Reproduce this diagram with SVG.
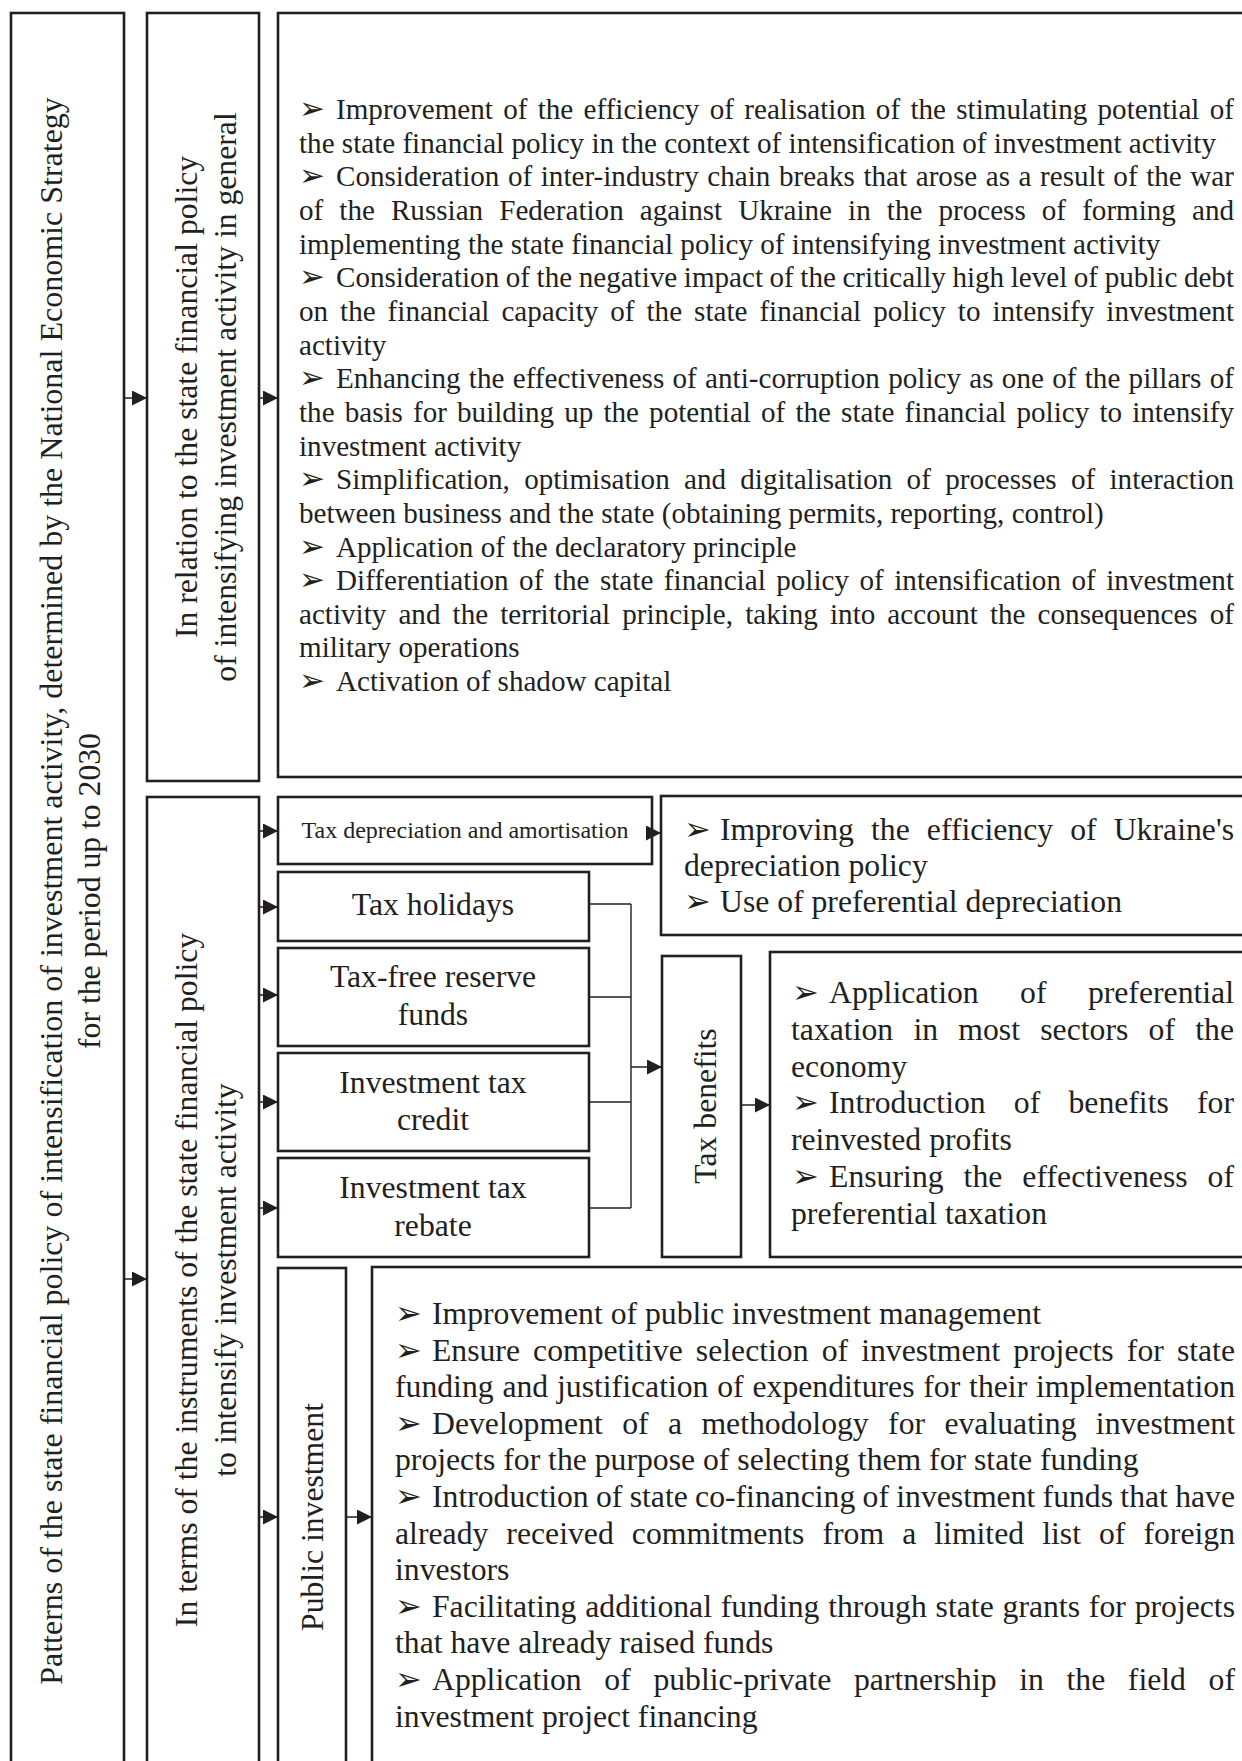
<svg xmlns="http://www.w3.org/2000/svg" width="1242" height="1761" viewBox="0 0 1242 1761">
<style>
.t{font-family:"Liberation Serif","Times New Roman",serif;fill:#231f20}
.s29{font-size:29.1px}
.s32{font-size:31.7px}
.s32b{font-size:32px}
.s24{font-size:24px}
.b{font-family:"DejaVu Sans",sans-serif;fill:#231f20}
.b29{font-size:31px}
.b32{font-size:32px}
.m{text-anchor:middle}
.box{fill:none;stroke:#231f20;stroke-width:2.6}
.ln{fill:none;stroke:#231f20;stroke-width:1.4}
.ar{fill:none;stroke:#231f20;stroke-width:1.5;marker-end:url(#ah)}
</style>
<defs>
<marker id="ah" viewBox="0 0 15 15" refX="15" refY="7.5" markerWidth="15" markerHeight="15" markerUnits="userSpaceOnUse" orient="auto">
<path d="M0,0 L15,7.5 L0,15 z" fill="#231f20"/>
</marker>
</defs>
<rect width="1242" height="1761" fill="#ffffff"/>

<g id="node-patterns">
<rect class="box" x="11" y="13" width="113" height="1770"/>
<text class="t s32b m" transform="translate(62,891) rotate(-90)">Patterns of the state financial policy of intensification of investment activity, determined by the National Economic Strategy</text>
<text class="t s32 m" transform="translate(100,891) rotate(-90)">for the period up to 2030</text>
</g>

<g id="node-general">
<rect class="box" x="147" y="13" width="112" height="768"/>
<text class="t s32 m" transform="translate(197,397) rotate(-90)">In relation to the state financial policy</text>
<text class="t s32 m" transform="translate(236,397) rotate(-90)">of intensifying investment activity in general</text>
</g>

<g id="node-general-list">
<rect class="box" x="278" y="13" width="990" height="764"/>
<g class="b b29">
<text x="299" y="119">➢</text>
<text x="299" y="186.3">➢</text>
<text x="299" y="287.3">➢</text>
<text x="299" y="388.2">➢</text>
<text x="299" y="489.2">➢</text>
<text x="299" y="556.5">➢</text>
<text x="299" y="590.1">➢</text>
<text x="299" y="691.1">➢</text>
</g>
<g class="t s29">
<text x="336" y="119" word-spacing="3" textLength="898" lengthAdjust="spacing">Improvement of the efficiency of realisation of the stimulating potential of</text>
<text x="299" y="152.7">the state financial policy in the context of intensification of investment activity</text>
<text x="336" y="186.3" word-spacing="1.3" textLength="898" lengthAdjust="spacing">Consideration of inter-industry chain breaks that arose as a result of the war</text>
<text x="299" y="220" word-spacing="8.8" textLength="935" lengthAdjust="spacing">of the Russian Federation against Ukraine in the process of forming and</text>
<text x="299" y="253.6">implementing the state financial policy of intensifying investment activity</text>
<text x="336" y="287.3" word-spacing="-0.7" textLength="898" lengthAdjust="spacing">Consideration of the negative impact of the critically high level of public debt</text>
<text x="299" y="320.9" word-spacing="4.7" textLength="935" lengthAdjust="spacing">on the financial capacity of the state financial policy to intensify investment</text>
<text x="299" y="354.6">activity</text>
<text x="336" y="388.2" word-spacing="1" textLength="898" lengthAdjust="spacing">Enhancing the effectiveness of anti-corruption policy as one of the pillars of</text>
<text x="299" y="421.9" word-spacing="2.85" textLength="935" lengthAdjust="spacing">the basis for building up the potential of the state financial policy to intensify</text>
<text x="299" y="455.5">investment activity</text>
<text x="336" y="489.2" word-spacing="7" textLength="898" lengthAdjust="spacing">Simplification, optimisation and digitalisation of processes of interaction</text>
<text x="299" y="522.8">between business and the state (obtaining permits, reporting, control)</text>
<text x="336" y="556.5">Application of the declaratory principle</text>
<text x="336" y="590.1" word-spacing="3.2" textLength="898" lengthAdjust="spacing">Differentiation of the state financial policy of intensification of investment</text>
<text x="299" y="623.8" word-spacing="4.8" textLength="935" lengthAdjust="spacing">activity and the territorial principle, taking into account the consequences of</text>
<text x="299" y="657.4">military operations</text>
<text x="336" y="691.1">Activation of shadow capital</text>
</g>
</g>

<g id="node-instruments">
<rect class="box" x="147" y="797" width="112" height="986"/>
<text class="t s32 m" transform="translate(197,1280) rotate(-90)">In terms of the instruments of the state financial policy</text>
<text class="t s32 m" transform="translate(236,1280) rotate(-90)">to intensify investment activity</text>
</g>

<g id="node-depreciation">
<rect class="box" x="278" y="797" width="374" height="67"/>
<text class="t s24 m" x="465" y="838">Tax depreciation and amortisation</text>
</g>

<g id="node-depreciation-list">
<rect class="box" x="661" y="796" width="607" height="139"/>
<text class="b b32" x="684" y="840">➢</text>
<text class="b b32" x="684" y="912">➢</text>
<g class="t s32">
<text x="720" y="840" word-spacing="9.1" textLength="514" lengthAdjust="spacing">Improving the efficiency of Ukraine's</text>
<text x="684" y="876">depreciation policy</text>
<text x="720" y="912">Use of preferential depreciation</text>
</g>
</g>

<g id="node-holidays">
<rect class="box" x="278" y="872" width="311" height="69"/>
<text class="t s32 m" x="433" y="915">Tax holidays</text>
</g>

<g id="node-reserve">
<rect class="box" x="278" y="948" width="311" height="98"/>
<text class="t s32 m" x="433" y="987">Tax-free reserve</text>
<text class="t s32 m" x="433" y="1025">funds</text>
</g>

<g id="node-credit">
<rect class="box" x="278" y="1053" width="311" height="98"/>
<text class="t s32 m" x="433" y="1093">Investment tax</text>
<text class="t s32 m" x="433" y="1130">credit</text>
</g>

<g id="node-rebate">
<rect class="box" x="278" y="1158" width="311" height="99"/>
<text class="t s32 m" x="433" y="1198">Investment tax</text>
<text class="t s32 m" x="433" y="1236">rebate</text>
</g>

<g id="node-benefits">
<rect class="box" x="662" y="956" width="79" height="301"/>
<text class="t s32 m" transform="translate(716,1106) rotate(-90)">Tax benefits</text>
</g>

<g id="node-benefits-list">
<rect class="box" x="770" y="952" width="498" height="305"/>
<g class="b b32">
<text x="792" y="1003">➢</text>
<text x="792" y="1113">➢</text>
<text x="792" y="1187">➢</text>
</g>
<g class="t s32">
<text x="829" y="1003" word-spacing="33.5" textLength="405" lengthAdjust="spacing">Application of preferential</text>
<text x="791" y="1040" word-spacing="12.3" textLength="443" lengthAdjust="spacing">taxation in most sectors of the</text>
<text x="791" y="1077">economy</text>
<text x="829" y="1113" word-spacing="20.3" textLength="405" lengthAdjust="spacing">Introduction of benefits for</text>
<text x="791" y="1150">reinvested profits</text>
<text x="829" y="1187" word-spacing="12" textLength="405" lengthAdjust="spacing">Ensuring the effectiveness of</text>
<text x="791" y="1224">preferential taxation</text>
</g>
</g>

<g id="node-public">
<rect class="box" x="278" y="1268" width="68" height="515"/>
<text class="t s32 m" transform="translate(323,1517) rotate(-90)">Public investment</text>
</g>

<g id="node-public-list">
<rect class="box" x="372" y="1267" width="896" height="516"/>
<g class="b b32">
<text x="395" y="1324">➢</text>
<text x="395" y="1360.6">➢</text>
<text x="395" y="1433.8">➢</text>
<text x="395" y="1507">➢</text>
<text x="395" y="1616.8">➢</text>
<text x="395" y="1690">➢</text>
</g>
<g class="t s32">
<text x="432" y="1324">Improvement of public investment management</text>
<text x="432" y="1360.6" word-spacing="5.2" textLength="803" lengthAdjust="spacing">Ensure competitive selection of investment projects for state</text>
<text x="395" y="1397.2" word-spacing="0.9" textLength="840" lengthAdjust="spacing">funding and justification of expenditures for their implementation</text>
<text x="432" y="1433.8" word-spacing="11.45" textLength="803" lengthAdjust="spacing">Development of a methodology for evaluating investment</text>
<text x="395" y="1470.4">projects for the purpose of selecting them for state funding</text>
<text x="432" y="1507" word-spacing="-0.65" textLength="803" lengthAdjust="spacing">Introduction of state co-financing of investment funds that have</text>
<text x="395" y="1543.6" word-spacing="10.1" textLength="840" lengthAdjust="spacing">already received commitments from a limited list of foreign</text>
<text x="395" y="1580.2">investors</text>
<text x="432" y="1616.8" word-spacing="0.9" textLength="803" lengthAdjust="spacing">Facilitating additional funding through state grants for projects</text>
<text x="395" y="1653.4">that have already raised funds</text>
<text x="432" y="1690" word-spacing="14.7" textLength="803" lengthAdjust="spacing">Application of public-private partnership in the field of</text>
<text x="395" y="1726.6">investment project financing</text>
</g>
</g>

<g id="connectors">
<line class="ar" x1="124" y1="398" x2="147" y2="398"/>
<line class="ar" x1="124" y1="1279" x2="147" y2="1279"/>
<line class="ar" x1="259" y1="398" x2="278" y2="398"/>
<line class="ar" x1="259" y1="831" x2="278" y2="831"/>
<line class="ar" x1="259" y1="907" x2="278" y2="907"/>
<line class="ar" x1="259" y1="995" x2="278" y2="995"/>
<line class="ar" x1="259" y1="1102" x2="278" y2="1102"/>
<line class="ar" x1="259" y1="1208" x2="278" y2="1208"/>
<line class="ar" x1="259" y1="1517" x2="278" y2="1517"/>
<line class="ar" x1="646" y1="833" x2="661" y2="833"/>
<path class="ln" d="M589,904 H631 M589,997 H631 M589,1102 H631 M589,1208 H631 M631,904 V1208"/>
<line class="ar" x1="631" y1="1067" x2="662" y2="1067"/>
<line class="ar" x1="741" y1="1105" x2="770" y2="1105"/>
<line class="ar" x1="346" y1="1517" x2="372" y2="1517"/>
</g>
</svg>
